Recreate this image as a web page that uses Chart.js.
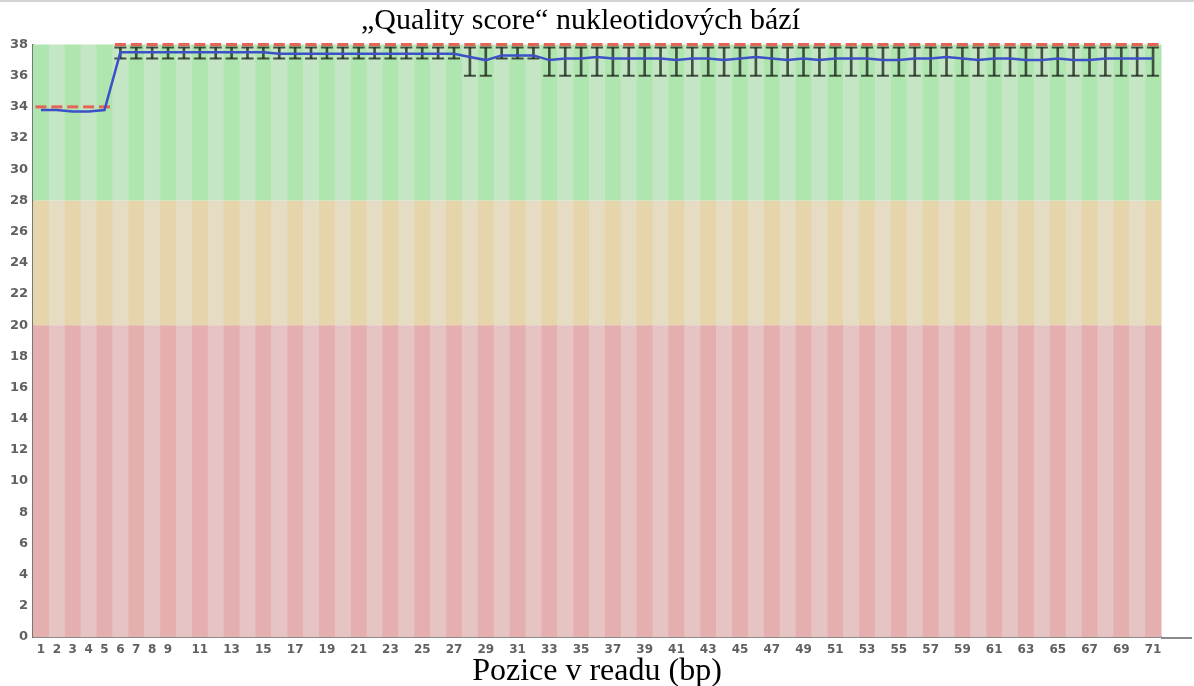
<!DOCTYPE html>
<html>
<head>
<meta charset="utf-8">
<script src="https://cdn.jsdelivr.net/npm/chart.js@4.4.1/dist/chart.umd.min.js"></script>
<style>
  html, body { margin: 0; padding: 0; background: #fff; }
  #wrap { width: 1194px; height: 686px; }
</style>
</head>
<body>
<div id="wrap"><canvas id="quality"></canvas></div>
<script>
const positions = [
  "1", "2", "3", "4", "5", "6", "7", "8", "9", "10",
  "11", "12", "13", "14", "15", "16", "17", "18", "19", "20",
  "21", "22", "23", "24", "25", "26", "27", "28", "29", "30",
  "31", "32", "33", "34", "35", "36", "37", "38", "39", "40",
  "41", "42", "43", "44", "45", "46", "47", "48", "49", "50",
  "51", "52", "53", "54", "55", "56", "57", "58", "59", "60",
  "61", "62", "63", "64", "65", "66", "67", "68", "69", "70",
  "71"
];

const meanQuality = [
  33.8, 33.8, 33.7, 33.7, 33.8, 37.5, 37.5, 37.5, 37.5, 37.5,
  37.5, 37.5, 37.5, 37.5, 37.5, 37.4, 37.4, 37.4, 37.4, 37.4,
  37.4, 37.4, 37.4, 37.4, 37.4, 37.4, 37.4, 37.2, 37.0, 37.3,
  37.3, 37.3, 37.0, 37.1, 37.1, 37.2, 37.1, 37.1, 37.1, 37.1,
  37.0, 37.1, 37.1, 37.0, 37.1, 37.2, 37.1, 37.0, 37.1, 37.0,
  37.1, 37.1, 37.1, 37.0, 37.0, 37.1, 37.1, 37.2, 37.1, 37.0,
  37.1, 37.1, 37.0, 37.0, 37.1, 37.0, 37.0, 37.1, 37.1, 37.1,
  37.1
];

const medianQuality = [
  34, 34, 34, 34, 34, 38, 38, 38, 38, 38,
  38, 38, 38, 38, 38, 38, 38, 38, 38, 38,
  38, 38, 38, 38, 38, 38, 38, 38, 38, 38,
  38, 38, 38, 38, 38, 38, 38, 38, 38, 38,
  38, 38, 38, 38, 38, 38, 38, 38, 38, 38,
  38, 38, 38, 38, 38, 38, 38, 38, 38, 38,
  38, 38, 38, 38, 38, 38, 38, 38, 38, 38,
  38
];

// 10% a 90% percentil (fousy), u pozic 1-5 splývají s mediánem
const whiskerLow = [
  null, null, null, null, null, 37.1, 37.1, 37.1, 37.1, 37.1,
  37.1, 37.1, 37.1, 37.1, 37.1, 37.1, 37.1, 37.1, 37.1, 37.1,
  37.1, 37.1, 37.1, 37.1, 37.1, 37.1, 37.1, 36, 36, 37.1,
  37.1, 37.1, 36, 36, 36, 36, 36, 36, 36, 36,
  36, 36, 36, 36, 36, 36, 36, 36, 36, 36,
  36, 36, 36, 36, 36, 36, 36, 36, 36, 36,
  36, 36, 36, 36, 36, 36, 36, 36, 36, 36,
  36
];

const whiskerHigh = [
  null, null, null, null, null, 37.8, 37.8, 37.8, 37.8, 37.8,
  37.8, 37.8, 37.8, 37.8, 37.8, 37.8, 37.8, 37.8, 37.8, 37.8,
  37.8, 37.8, 37.8, 37.8, 37.8, 37.8, 37.8, 37.8, 37.8, 37.8,
  37.8, 37.8, 37.8, 37.8, 37.8, 37.8, 37.8, 37.8, 37.8, 37.8,
  37.8, 37.8, 37.8, 37.8, 37.8, 37.8, 37.8, 37.8, 37.8, 37.8,
  37.8, 37.8, 37.8, 37.8, 37.8, 37.8, 37.8, 37.8, 37.8, 37.8,
  37.8, 37.8, 37.8, 37.8, 37.8, 37.8, 37.8, 37.8, 37.8, 37.8,
  37.8
];

// pásma kvality: [od, do, tmavá, světlá]
const zones = [
  [0, 20, "rgb(230,175,175)", "rgb(230,196,196)"],
  [20, 28, "rgb(230,212,170)", "rgb(230,220,196)"],
  [28, 38, "rgb(175,230,175)", "rgb(196,230,196)"]
];

const whiskerRanges = whiskerLow.map((low, i) =>
  low === null ? null : [low, whiskerHigh[i]]
);

const zoneBands = {
  id: "zoneBands",
  beforeDatasetsDraw(chart) {
    const { ctx, chartArea, scales } = chart;
    const x = scales.x;
    const y = scales.y;
    const step = chartArea.width / positions.length;
    ctx.save();
    positions.forEach((p, i) => {
      const cx = x.getPixelForValue(i);
      for (const zone of zones) {
        const top = y.getPixelForValue(zone[1]);
        const bottom = y.getPixelForValue(zone[0]);
        ctx.fillStyle = i % 2 === 0 ? zone[2] : zone[3];
        ctx.fillRect(cx - step / 2, top, step + 0.5, bottom - top);
      }
    });
    ctx.restore();
  },
  afterDraw(chart) {
    const { ctx, chartArea, width } = chart;
    ctx.save();
    // prodloužení osy x doprava
    ctx.strokeStyle = "#8a8a8a";
    ctx.lineWidth = 2;
    ctx.beginPath();
    ctx.moveTo(chartArea.right, chartArea.bottom + 1);
    ctx.lineTo(width - 2, chartArea.bottom + 1);
    ctx.stroke();
    // tenká linka nahoře
    ctx.strokeStyle = "#c4c4c4";
    ctx.lineWidth = 1.5;
    ctx.beginPath();
    ctx.moveTo(0, 1);
    ctx.lineTo(width, 1);
    ctx.stroke();
    ctx.restore();
  }
};

new Chart(document.getElementById("quality"), {
  data: {
    labels: positions,
    datasets: [
      {
        type: "line",
        label: "Průměr",
        data: meanQuality,
        borderColor: "rgb(60,80,200)",
        borderWidth: 2.5,
        pointRadius: 0,
        tension: 0
      },
      {
        type: "line",
        label: "Medián",
        data: medianQuality,
        showLine: false,
        clip: false,
        pointStyle: "line",
        pointRadius: 5.5,
        borderWidth: 3,
        borderColor: "rgb(228,100,85)"
      },
      {
        type: "line",
        label: "90 %",
        data: whiskerHigh,
        showLine: false,
        pointStyle: "line",
        pointRadius: 6,
        borderWidth: 2,
        borderColor: "rgba(30,40,30,0.78)"
      },
      {
        type: "line",
        label: "10 %",
        data: whiskerLow,
        showLine: false,
        pointStyle: "line",
        pointRadius: 6,
        borderWidth: 2,
        borderColor: "rgba(30,40,30,0.78)"
      },
      {
        type: "bar",
        label: "Rozsah",
        data: whiskerRanges,
        barThickness: 2,
        backgroundColor: "rgba(30,40,30,0.78)",
        borderWidth: 0
      }
    ]
  },
  options: {
    responsive: true,
    maintainAspectRatio: false,
    animation: false,
    events: [],
    layout: { padding: { left: 0, right: 33, top: 0, bottom: 0 } },
    plugins: {
      legend: { display: false },
      tooltip: { enabled: false },
      title: {
        display: true,
        text: "„Quality score“ nukleotidových bází",
        color: "#000",
        font: { family: "Liberation Serif", size: 30, weight: "normal", lineHeight: 1.15 },
        padding: { top: 4, bottom: 6 }
      }
    },
    scales: {
      x: {
        type: "category",
        offset: true,
        grid: { display: false, drawTicks: false },
        border: { display: true, color: "#8a8a8a", width: 2 },
        ticks: {
          autoSkip: false,
          maxRotation: 0,
          padding: 6,
          color: "#606060",
          font: { family: "DejaVu Sans", size: 12, weight: "bold" },
          callback: (value, index) =>
            index < 9 || index % 2 === 0 ? positions[index] : ""
        },
        title: {
          display: true,
          text: "Pozice v readu (bp)",
          color: "#000",
          font: { family: "Liberation Serif", size: 32, lineHeight: 1 },
          padding: { top: 0, bottom: -2 }
        },
        afterFit: (scale) => { scale.height = 49; }
      },
      y: {
        min: 0,
        max: 38,
        grid: { display: false, drawTicks: false },
        border: { display: true, color: "#777", width: 2 },
        ticks: {
          stepSize: 2,
          padding: 5,
          color: "#606060",
          font: { family: "DejaVu Sans", size: 13, weight: "bold" }
        },
        afterFit: (scale) => { scale.width = 33; }
      }
    }
  },
  plugins: [zoneBands]
});
</script>
</body>
</html>
